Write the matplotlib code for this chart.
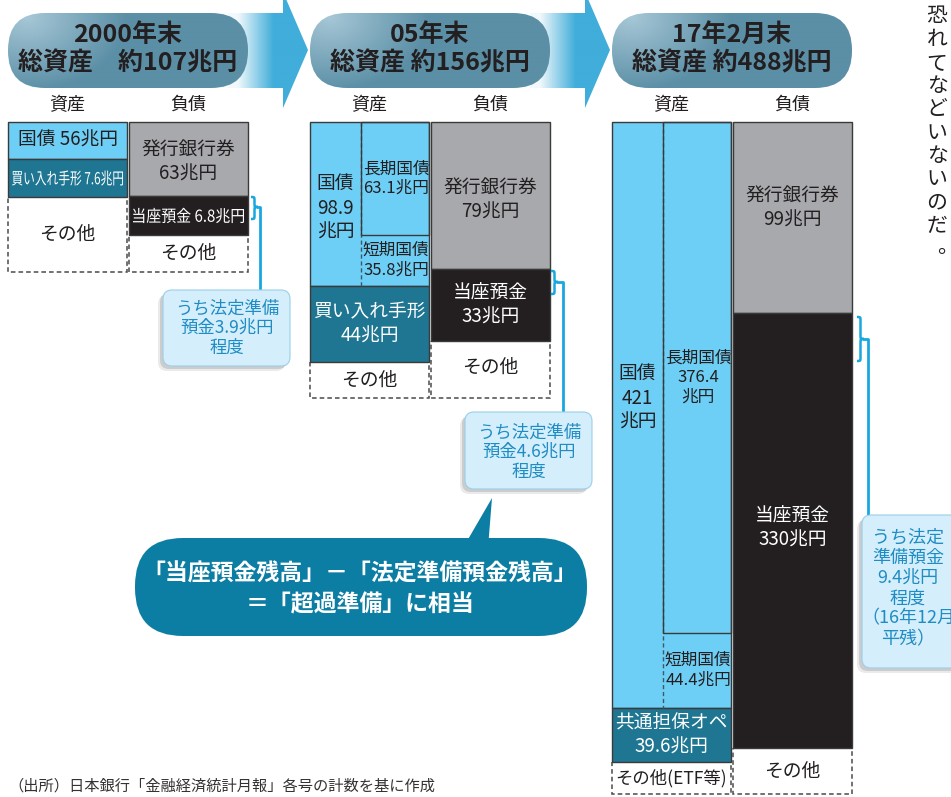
import numpy as np
import matplotlib.pyplot as plt
import matplotlib.transforms as mtransforms
from matplotlib.patches import FancyBboxPatch, Polygon, PathPatch
from matplotlib.path import Path
from matplotlib.textpath import TextPath
from matplotlib.font_manager import FontProperties
from matplotlib.colors import to_rgb

plt.rcParams['font.family'] = ['Noto Sans CJK JP', 'DejaVu Sans']

# --- data -------------------------------------------------------------
periods = ["2000年末", "05年末", "17年2月末"]
totals = ["総資産　約107兆円", "総資産 約156兆円", "総資産 約488兆円"]

# segments top -> bottom; heights are the schematic drawn heights
a00_labels = ["国債 56兆円", "買い入れ手形 7.6兆円", "その他"]
a00_heights = [37, 38, 75]
a00_kinds = ["jgb", "bill", "other"]
l00_labels = ["発行銀行券\n63兆円", "当座預金 6.8兆円", "その他"]
l00_heights = [74, 39, 37]

a05_labels = ["国債\n98.9\n兆円", "買い入れ手形\n44兆円", "その他"]
a05_heights = [164, 76, 36]
a05_sub_labels = ["長期国債\n63.1兆円", "短期国債\n35.8兆円"]
a05_sub_heights = [113, 51]
l05_labels = ["発行銀行券\n79兆円", "当座預金\n33兆円", "その他"]
l05_heights = [147, 72, 57]

a17_labels = ["国債\n421\n兆円", "共通担保オペ\n39.6兆円", "その他(ETF等)"]
a17_heights = [586, 54, 32]
a17_sub_labels = ["長期国債\n376.4\n兆円", "短期国債\n44.4兆円"]
a17_sub_heights = [511, 75]
l17_labels = ["発行銀行券\n99兆円", "当座預金\n330兆円", "その他"]
l17_heights = [191, 435, 46]

liab_kinds = ["note", "current", "other"]

reserve_notes = ["うち法定準備\n預金3.9兆円\n程度",
                 "うち法定準備\n預金4.6兆円\n程度",
                 "うち法定\n準備預金\n9.4兆円\n程度\n（16年12月\n平残）"]

bubble_lines = ["「当座預金残高」－「法定準備預金残高」", "＝「超過準備」に相当"]
source = "（出所）日本銀行「金融経済統計月報」各号の計数を基に作成"
side_text = "恐れてなどいないのだ。"

# --- style ------------------------------------------------------------
COL = {"jgb": "#6DCFF6", "bill": "#1E7692", "note": "#A7A9AC",
       "current": "#231F20", "other": "white"}
TXT = {"jgb": "#231F20", "bill": "white", "note": "#231F20",
       "current": "white", "other": "#231F20"}
CYAN = "#18A8E0"
NOTE_TXT = "#1F8CC4"
DARK = "#231F20"
LS = 1.2

TOP = 122
W = 119
block_x = [8, 310, 612]
LIAB_OFF = 121
SPLIT = 51

fig = plt.figure(figsize=(9.51, 7.97), dpi=100)
ax = fig.add_axes([0, 0, 1, 1])
ax.set_xlim(0, 951)
ax.set_ylim(797, 0)
ax.axis('off')


def gradient_fill(patch, img, extent, z):
    ax.add_patch(patch)
    im = ax.imshow(img, extent=extent, aspect='auto', zorder=z,
                   interpolation='bilinear', origin='upper')
    im.set_clip_path(patch)


def condensed(cx, cy, s, size_px, width, color):
    # text squeezed horizontally to a target width (like the narrow labels)
    tp = TextPath((0, 0), s, size=size_px,
                  prop=FontProperties(family='Noto Sans CJK JP'))
    bb = tp.get_extents()
    sx = min(1.0, width / bb.width)
    tr = (mtransforms.Affine2D()
          .translate(-(bb.x0 + bb.x1) / 2, -(bb.y0 + bb.y1) / 2)
          .scale(sx, -1).translate(cx, cy))
    ax.add_patch(PathPatch(tr.transform_path(tp), facecolor=color,
                           edgecolor='none', zorder=6))


def header(x0, title, total, arrow=True):
    x1 = x0 + 240
    if arrow:
        hb, tip = x1 + 35, x1 + 60
        shape = Polygon([(x1 - 20, 13), (hb, 13), (hb, -8), (tip, 50),
                         (hb, 108), (hb, 88), (x1 - 20, 88)],
                        closed=True, facecolor='none', edgecolor='none',
                        zorder=1)
        xs = np.linspace(0, 1, 200)
        c0, c1 = np.array(to_rgb("#F2F9FC")), np.array(to_rgb("#40ADDA"))
        t = np.clip((xs - 0.12) / 0.45, 0, 1)[None, :, None]
        img = np.repeat(c0 * (1 - t) + c1 * t, 20, axis=0)
        gradient_fill(shape, img, (x1 - 20, tip, 110, -10), 1)
    pill = FancyBboxPatch((x0, 13), 240, 75,
                          boxstyle="round,pad=0,rounding_size=37",
                          facecolor='none', edgecolor='none', zorder=2)
    yy, xx = np.mgrid[0:1:60j, 0:1:240j]
    d = np.sqrt(((xx - 0.08) * 2.4) ** 2 + (yy - 0.05) ** 2)
    t = np.clip(d / 1.0, 0, 1)[..., None]
    cl, cd = np.array(to_rgb("#A6C7D6")), np.array(to_rgb("#5B8FA6"))
    img = cl * (1 - t) + cd * t
    gradient_fill(pill, img, (x0, x1, 88, 13), 2)
    cx = x0 + 120
    ax.text(cx, 35, title, ha='center', va='center', fontsize=18,
            fontweight='bold', color=DARK, zorder=5)
    ax.text(cx, 63, total, ha='center', va='center', fontsize=18,
            fontweight='bold', color=DARK, zorder=5)
    ax.text(x0 + W / 2, 105, "資産", ha='center', va='center', fontsize=13,
            color=DARK)
    ax.text(x0 + LIAB_OFF + W / 2, 105, "負債", ha='center', va='center',
            fontsize=13, color=DARK)


def draw_segment(x, top, h, kind):
    if kind == "other":
        ax.bar(x, h, width=W, bottom=top, align='edge', color='white',
               edgecolor='#4A4A4A', linewidth=1.1, linestyle=(0, (3, 2)),
               zorder=3)
    else:
        ax.bar(x, h, width=W, bottom=top, align='edge', color=COL[kind],
               edgecolor='#3A3A3A', linewidth=1.0, zorder=4)


def stack(x, heights, labels, kinds, dys, squeeze=()):
    tops = TOP + np.concatenate([[0], np.cumsum(heights)[:-1]])
    for i, (top, h, lab, kind) in enumerate(zip(tops, heights, labels, kinds)):
        draw_segment(x, top, h, kind)
        if i in squeeze:
            condensed(x + W / 2, top + h / 2 + dys[i], lab, 16.5, W - 8,
                      TXT[kind])
        else:
            ax.text(x + W / 2, top + h / 2 + dys[i], lab, ha='center',
                    va='center', fontsize=13.5, color=TXT[kind],
                    linespacing=LS, zorder=6)


def stack_split(x, heights, labels, kinds, sub_h, sub_labels, dys):
    tops = TOP + np.concatenate([[0], np.cumsum(heights)[:-1]])
    for i, (top, h, lab, kind) in enumerate(zip(tops, heights, labels, kinds)):
        draw_segment(x, top, h, kind)
        cx = x + SPLIT / 2 if kind == "jgb" else x + W / 2
        size = 12.5 if "ETF" in lab else 13.5
        ax.text(cx, top + h / 2 + dys[i], lab, ha='center', va='center',
                fontsize=size, color=TXT[kind], linespacing=LS, zorder=6)
    xs = x + SPLIT
    ax.plot([xs, xs], [TOP, TOP + heights[0]], color='#3A5A6A', lw=1,
            linestyle=(0, (3, 2)), zorder=5)
    ax.bar(xs, sub_h[0], width=x + W - xs, bottom=TOP, align='edge',
           color='none', edgecolor='#3A3A3A', linewidth=1.0, zorder=5)
    sub_tops = TOP + np.concatenate([[0], np.cumsum(sub_h)[:-1]])
    for top, h, lab in zip(sub_tops, sub_h, sub_labels):
        ax.text(xs + (x + W - xs) / 2 + 1, top + h / 2, lab, ha='center',
                va='center', fontsize=12, color=DARK, linespacing=LS,
                zorder=6)


def brace(x, y0, y1, ym, w=7):
    r = 4
    xm = x + w * 0.5
    verts = [(x, y0), (xm, y0), (xm, y0), (xm, y0 + r),
             (xm, ym - r),
             (xm, ym), (xm, ym), (x + w, ym),
             (xm, ym), (xm, ym), (xm, ym + r),
             (xm, y1 - r),
             (xm, y1), (xm, y1), (x, y1)]
    codes = [Path.MOVETO, Path.CURVE4, Path.CURVE4, Path.CURVE4,
             Path.LINETO,
             Path.CURVE4, Path.CURVE4, Path.CURVE4,
             Path.CURVE4, Path.CURVE4, Path.CURVE4,
             Path.LINETO,
             Path.CURVE4, Path.CURVE4, Path.CURVE4]
    ax.add_patch(PathPatch(Path(verts, codes), fill=False, edgecolor=CYAN,
                           lw=1.8, zorder=6))


def note_box(x, y, w, h, text, fs, tx, ty, ls):
    for k, a in [(5, 0.12), (3, 0.2)]:
        ax.add_patch(FancyBboxPatch((x - k, y + k), w, h,
                                    boxstyle="round,pad=0,rounding_size=9",
                                    facecolor='#555555', edgecolor='none',
                                    alpha=a, zorder=6))
    ax.add_patch(FancyBboxPatch((x, y), w, h,
                                boxstyle="round,pad=0,rounding_size=9",
                                facecolor='#D4EEFB', edgecolor='#9CCFEA',
                                lw=0.8, zorder=7))
    ax.text(tx, ty, text, ha='center', va='center', fontsize=fs,
            color=NOTE_TXT, linespacing=ls, zorder=8)


# --- headers ----------------------------------------------------------
for i, (x0, p, t) in enumerate(zip(block_x, periods, totals)):
    header(x0, p, t, arrow=i < 2)

# --- 2000 -------------------------------------------------------------
x = block_x[0]
stack(x, a00_heights, a00_labels, a00_kinds, [0, 0, 0], squeeze=(1,))
stack(x + LIAB_OFF, l00_heights, l00_labels, liab_kinds, [3, 0, 0],
      squeeze=(1,))
# --- 2005 -------------------------------------------------------------
x = block_x[1]
stack_split(x, a05_heights, a05_labels, a00_kinds, a05_sub_heights,
            a05_sub_labels, [4, 0, 0])
stack(x + LIAB_OFF, l05_heights, l05_labels, liab_kinds, [5, 0, -2])
# --- 2017 -------------------------------------------------------------
x = block_x[2]
stack_split(x, a17_heights, a17_labels, a00_kinds, a17_sub_heights,
            a17_sub_labels, [-17, 0, 0])
stack(x + LIAB_OFF, l17_heights, l17_labels, liab_kinds, [-9, -2, 0])

# --- braces and reserve notes ----------------------------------------
brace(251, 197, 219, 207)
ax.plot([258, 260, 260], [207, 207, 291], color=CYAN, lw=2, zorder=5)
note_box(163, 290, 127, 76, reserve_notes[0], 12.5, 227, 328, 1.13)

brace(551, 271, 294, 282)
ax.plot([558, 563, 563], [282, 282, 413], color=CYAN, lw=2, zorder=5)
note_box(465, 412, 127, 77, reserve_notes[1], 12.5, 529, 452, 1.13)

brace(857, 317, 361, 339)
ax.plot([864, 868, 868], [339, 339, 516], color=CYAN, lw=2, zorder=5)
note_box(862, 515, 120, 153, reserve_notes[2], 13, 908, 588, 1.17)

# --- speech bubble ----------------------------------------------------
BUB = "#0D7EA3"
ax.add_patch(Polygon([(463, 548), (492, 498), (488, 548)], closed=True,
                     facecolor=BUB, edgecolor='none', zorder=7))
ax.add_patch(FancyBboxPatch((135, 538), 452, 98,
                            boxstyle="round,pad=0,rounding_size=48",
                            facecolor=BUB, edgecolor='none', zorder=7))
ax.text(360, 574, bubble_lines[0], ha='center', va='center', fontsize=16.5,
        fontweight='bold', color='white', zorder=8)
ax.text(360, 605, bubble_lines[1], ha='center', va='center', fontsize=16.5,
        fontweight='bold', color='white', zorder=8)

# --- source and side text --------------------------------------------
ax.text(8, 786, source, ha='left', va='center', fontsize=11,
        color='#333333')
for i, ch in enumerate(side_text):
    dx, dy = (11, -2) if ch == "。" else (0, 0)
    ax.text(937 + dx, 16 + i * 23.3 + dy, ch, ha='center', va='center',
            fontsize=15, color=DARK)

fig.savefig("out.png", dpi=100)
